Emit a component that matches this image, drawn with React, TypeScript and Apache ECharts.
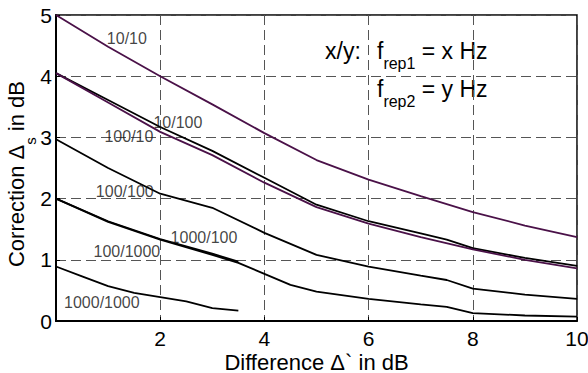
import React, { useEffect, useRef } from 'react';
import * as echarts from 'echarts';

const FONT = '"Liberation Sans", Arial, Helvetica, sans-serif';
const PURPLE = '#4a1148';

const xTickValues = [0, 2, 4, 6, 8, 10];
const yTickValues = [0, 1, 2, 3, 4, 5];

const curve10_10 = [[0, 5.0], [1, 4.48], [2, 4.0], [3, 3.54], [4, 3.07], [5, 2.63], [6, 2.31], [7, 2.04], [8, 1.78], [9, 1.56], [10, 1.37]];
const curve10_100 = [[0, 4.05], [1, 3.61], [2, 3.17], [3, 2.78], [4, 2.34], [5, 1.9], [6, 1.63], [7, 1.43], [7.5, 1.33], [8, 1.19], [9, 1.03], [10, 0.9]];
const curve100_10 = [[0, 4.05], [1, 3.57], [2, 3.09], [3, 2.71], [4, 2.26], [5, 1.86], [6, 1.59], [7, 1.37], [8, 1.17], [9, 1.0], [10, 0.86]];
const curve100_100 = [[0, 2.97], [1, 2.5], [2, 2.08], [3, 1.85], [4, 1.44], [5, 1.08], [6, 0.89], [7, 0.74], [7.5, 0.67], [8, 0.53], [9, 0.43], [10, 0.36]];
const curve1000_100 = [[0, 2.0], [1, 1.62], [2, 1.33], [3, 1.08], [3.5, 0.95], [4, 0.77], [4.5, 0.59], [5, 0.48], [6, 0.36], [7, 0.27], [7.5, 0.23], [8, 0.13], [9, 0.09], [10, 0.07]];
const curve100_1000 = [[0, 2.0], [1, 1.63], [2, 1.34], [3, 1.1], [3.5, 0.97]];
const curve1000_1000 = [[0, 0.89], [0.5, 0.73], [1, 0.57], [1.5, 0.46], [2, 0.39], [2.5, 0.32], [3, 0.21], [3.5, 0.17]];

const curveLabels = [
  { name: '10/10', x: 1.36, y: 4.62 },
  { name: '10/100', x: 2.34, y: 3.25 },
  { name: '100/10', x: 1.4, y: 3.02 },
  { name: '100/100', x: 1.32, y: 2.12 },
  { name: '1000/100', x: 2.84, y: 1.37 },
  { name: '100/1000', x: 1.36, y: 1.14 },
  { name: '1000/1000', x: 0.88, y: 0.31 },
];

const curves = [
  { name: '10/10', data: curve10_10, color: PURPLE },
  { name: '10/100', data: curve10_100, color: '#000' },
  { name: '100/10', data: curve100_10, color: PURPLE },
  { name: '100/100', data: curve100_100, color: '#000' },
  { name: '1000/100', data: curve1000_100, color: '#000' },
  { name: '100/1000', data: curve100_1000, color: '#000' },
  { name: '1000/1000', data: curve1000_1000, color: '#000' },
];

export default function App() {
  const ref = useRef<HTMLDivElement>(null);
  useEffect(() => {
    const chart = echarts.init(ref.current!, null, { renderer: 'svg' });
    const subRich = {
      a: { fontSize: 23, lineHeight: 40, verticalAlign: 'middle', fontFamily: FONT, color: '#000', fill: '#000' },
      s: { fontSize: 16, lineHeight: 16, verticalAlign: 'bottom', fontFamily: FONT, color: '#000', fill: '#000' },
    };
    chart.setOption({
      animation: false,
      backgroundColor: '#fff',
      grid: {
        left: 56, right: 11, top: 15, bottom: 52,
        show: true, borderColor: '#000', borderWidth: 1.5,
        containLabel: false, outerBoundsMode: 'none',
      },
      xAxis: {
        type: 'value', min: xTickValues[0], max: xTickValues[xTickValues.length - 1], interval: 2,
        axisLine: { show: true, onZero: false, lineStyle: { color: '#000', width: 2 } },
        axisTick: { show: true, inside: true, length: 4, lineStyle: { color: '#000', width: 1 } },
        axisLabel: {
          formatter: (v: number) => (v === 0 ? '' : String(v)),
          fontSize: 21, color: '#000', margin: 7, fontFamily: FONT,
        },
        splitLine: { show: true, lineStyle: { type: [10, 5], color: '#555', width: 1 } },
        name: 'Difference Δ` in dB', nameLocation: 'middle', nameGap: 30, nameMoveOverlap: false,
        nameTextStyle: { fontSize: 22, color: '#000', fontFamily: FONT, lineHeight: 22 },
      },
      yAxis: {
        type: 'value', min: yTickValues[0], max: yTickValues[yTickValues.length - 1], interval: 1,
        axisLine: { show: true, onZero: false, lineStyle: { color: '#000', width: 2 } },
        axisTick: { show: true, inside: true, length: 4, lineStyle: { color: '#000', width: 1 } },
        axisLabel: { fontSize: 21, color: '#000', margin: 4, fontFamily: FONT },
        splitLine: { show: true, lineStyle: { type: [10, 5], color: '#555', width: 1 } },
        name: '{a|Correction Δ}{s|s}{a| in dB}', nameLocation: 'middle', nameGap: 18, nameMoveOverlap: false,
        nameTextStyle: {
          padding: [0, 12, 0, 0],
          rich: {
            a: { fontSize: 22, lineHeight: 44, verticalAlign: 'middle', fontFamily: FONT, color: '#000' },
            s: { fontSize: 15, lineHeight: 16, verticalAlign: 'bottom', fontFamily: FONT, color: '#000' },
          },
        },
      },
      series: [
        ...curves.map((c) => ({
          type: 'line', name: c.name, data: c.data, symbol: 'none', showSymbol: false,
          silent: true, lineStyle: { color: c.color, width: 1.8 }, z: 3,
        })),
        {
          type: 'scatter', name: 'labels', symbolSize: 0, silent: true, z: 5,
          data: curveLabels.map((l) => ({ value: [l.x, l.y], name: l.name })),
          label: {
            show: true, position: 'inside', formatter: '{b}',
            fontSize: 16, color: '#111', fontFamily: FONT,
          },
        },
      ],
      graphic: [
        {
          type: 'text', x: 325, y: 51.4, silent: true,
          style: { text: 'x/y:', fontSize: 23, fontFamily: FONT, fill: '#000', align: 'left', verticalAlign: 'middle' },
        },
        {
          type: 'text', x: 377, y: 31.4, silent: true,
          style: { text: '{a|f}{s|rep1}{a| = x Hz}', rich: subRich, align: 'left', verticalAlign: 'top', fill: '#000' },
        },
        {
          type: 'text', x: 377, y: 69.4, silent: true,
          style: { text: '{a|f}{s|rep2}{a| = y Hz}', rich: subRich, align: 'left', verticalAlign: 'top', fill: '#000' },
        },
      ],
    });
    return () => chart.dispose();
  }, []);
  return <div ref={ref} style={{ position: 'absolute', left: 0, top: 0, width: 588, height: 373 }} />;
}
